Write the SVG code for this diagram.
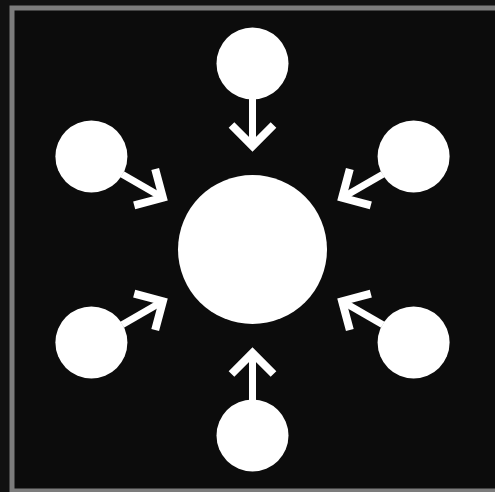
<svg xmlns="http://www.w3.org/2000/svg" xmlns:xlink="http://www.w3.org/1999/xlink" width="495" height="492" viewBox="0 0 495 492">
  <style>
    .node { fill: #ffffff; }
    .conn { fill: none; stroke: #ffffff; stroke-width: 7; stroke-linecap: butt; stroke-linejoin: miter; }
    .head { stroke-width: 8; }
  </style>
  <defs>
    <g id="arrow">
      <line class="conn" x1="252.5" y1="99" x2="252.5" y2="145"/>
      <polyline class="conn head" points="231.5,125 252.5,146 273.5,125"/>
    </g>
  </defs>
  <rect x="0" y="0" width="495" height="492" fill="#111111"/>
  <rect x="12" y="8" width="500" height="483" fill="#0c0c0c" stroke="#7c7c7c" stroke-width="5"/>
  <g id="connectors">
    <use xlink:href="#arrow"/>
    <use xlink:href="#arrow" transform="rotate(60 252.5 249.5)"/>
    <use xlink:href="#arrow" transform="rotate(120 252.5 249.5)"/>
    <use xlink:href="#arrow" transform="rotate(180 252.5 249.5)"/>
    <use xlink:href="#arrow" transform="rotate(240 252.5 249.5)"/>
    <use xlink:href="#arrow" transform="rotate(300 252.5 249.5)"/>
  </g>
  <g id="center"><circle class="node" cx="252.5" cy="249.5" r="74.5"/></g>
  <g id="top"><circle class="node" cx="252.5" cy="63.5" r="36"/></g>
  <g id="upper-right"><circle class="node" cx="413.6" cy="156.5" r="36"/></g>
  <g id="lower-right"><circle class="node" cx="413.6" cy="342.5" r="36"/></g>
  <g id="bottom"><circle class="node" cx="252.5" cy="435.5" r="36"/></g>
  <g id="lower-left"><circle class="node" cx="91.4" cy="342.5" r="36"/></g>
  <g id="upper-left"><circle class="node" cx="91.4" cy="156.5" r="36"/></g>
</svg>
